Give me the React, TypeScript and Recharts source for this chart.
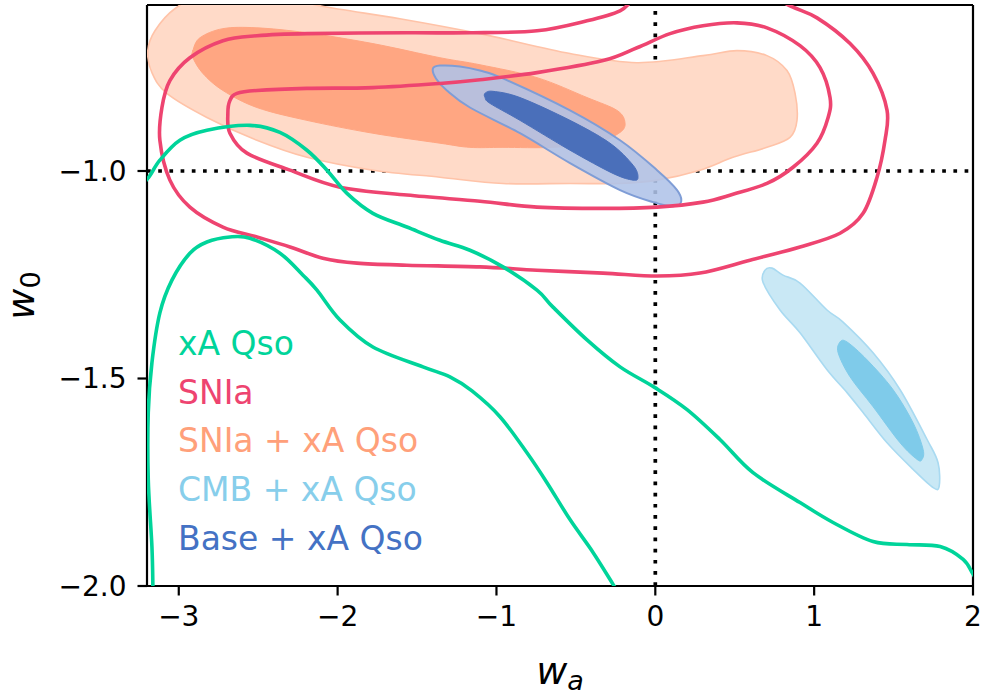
import React from 'react';
import { ScatterChart, Scatter, XAxis, YAxis, ReferenceLine, Legend } from 'recharts';

type Pair = [number, number];

// ---- contour data (wa, w0) ----
const SNXA_OUTER: Pair[] = [[-3.195,-0.710],[-3.150,-0.662],[-3.025,-0.609],[-2.804,-0.566],[-2.489,-0.566],[-2.111,-0.602],[-1.608,-0.633],[-1.104,-0.669],[-0.537,-0.717],[-0.115,-0.739],[0.300,-0.722],[0.514,-0.710],[0.703,-0.722],[0.829,-0.758],[0.880,-0.813],[0.892,-0.878],[0.848,-0.919],[0.703,-0.943],[0.489,-0.967],[0.281,-0.998],[0.011,-1.022],[-0.222,-1.030],[-0.537,-1.030],[-0.959,-1.030],[-1.356,-1.015],[-1.778,-0.998],[-2.193,-0.967],[-2.508,-0.926],[-2.823,-0.871],[-3.075,-0.813],[-3.169,-0.763]];

const SNXA_INNER: Pair[] = [[-2.911,-0.710],[-2.867,-0.679],[-2.722,-0.657],[-2.508,-0.655],[-2.193,-0.667],[-1.778,-0.693],[-1.356,-0.727],[-1.104,-0.744],[-0.745,-0.775],[-0.430,-0.823],[-0.241,-0.854],[-0.191,-0.883],[-0.222,-0.907],[-0.367,-0.931],[-0.644,-0.943],[-0.959,-0.943],[-1.167,-0.943],[-1.356,-0.933],[-1.778,-0.909],[-2.193,-0.878],[-2.508,-0.847],[-2.722,-0.806],[-2.848,-0.765],[-2.911,-0.727]];

const BASE_OUTER: Pair[] = [[-1.400,-0.753],[-1.356,-0.746],[-1.230,-0.748],[-1.104,-0.758],[-0.959,-0.777],[-0.537,-0.854],[-0.222,-0.926],[0.011,-0.998],[0.137,-1.046],[0.162,-1.075],[0.111,-1.085],[-0.014,-1.075],[-0.222,-1.046],[-0.537,-0.981],[-0.852,-0.909],[-1.167,-0.847],[-1.312,-0.806],[-1.381,-0.777]];

const BASE_INNER: Pair[] = [[-1.072,-0.813],[-1.022,-0.808],[-0.852,-0.823],[-0.537,-0.878],[-0.285,-0.933],[-0.140,-0.986],[-0.109,-1.015],[-0.140,-1.022],[-0.266,-1.006],[-0.537,-0.950],[-0.852,-0.878],[-1.041,-0.837],[-1.072,-0.823]];

const SN_INNER: Pair[] = [[-2.691,-0.861],[-2.678,-0.830],[-2.634,-0.813],[-2.508,-0.806],[-2.193,-0.801],[-1.778,-0.799],[-1.356,-0.789],[-1.104,-0.780],[-0.745,-0.763],[-0.329,-0.734],[-0.115,-0.703],[0.093,-0.669],[0.300,-0.650],[0.514,-0.643],[0.703,-0.655],[0.911,-0.698],[1.037,-0.751],[1.100,-0.823],[1.088,-0.871],[1.018,-0.933],[0.867,-0.991],[0.703,-1.030],[0.489,-1.056],[0.300,-1.075],[0.011,-1.087],[-0.329,-1.090],[-0.745,-1.087],[-1.104,-1.073],[-1.564,-1.058],[-1.985,-1.039],[-2.300,-0.998],[-2.571,-0.957],[-2.678,-0.909]];

const SN_OUTER: Pair[] = [[-3.119,-0.926],[-3.106,-0.847],[-3.056,-0.782],[-2.930,-0.727],[-2.722,-0.686],[-2.508,-0.674],[-2.193,-0.669],[-1.564,-0.667],[-1.167,-0.667],[-0.745,-0.662],[-0.430,-0.638],[-0.222,-0.614],[-0.096,-0.578],[0.219,-0.542],[0.596,-0.554],[0.848,-0.602],[1.018,-0.631],[1.226,-0.693],[1.371,-0.765],[1.459,-0.854],[1.446,-0.926],[1.396,-1.015],[1.308,-1.102],[1.163,-1.150],[0.911,-1.183],[0.596,-1.215],[0.281,-1.246],[0.011,-1.253],[-0.329,-1.246],[-0.745,-1.239],[-1.104,-1.231],[-1.564,-1.227],[-1.878,-1.222],[-2.093,-1.210],[-2.300,-1.183],[-2.508,-1.159],[-2.722,-1.135],[-2.930,-1.087],[-3.056,-1.022]];

const XA_OUTER: Pair[] = [[-3.276,-1.046],[-3.195,-1.018],[-3.119,-0.974],[-2.993,-0.926],[-2.823,-0.902],[-2.552,-0.890],[-2.363,-0.907],[-2.193,-0.950],[-2.067,-0.998],[-1.941,-1.054],[-1.778,-1.102],[-1.564,-1.135],[-1.356,-1.167],[-1.167,-1.191],[-0.959,-1.231],[-0.745,-1.287],[-0.644,-1.328],[-0.430,-1.407],[-0.222,-1.472],[-0.002,-1.522],[0.200,-1.575],[0.407,-1.647],[0.615,-1.727],[0.911,-1.799],[1.119,-1.847],[1.371,-1.893],[1.585,-1.900],[1.793,-1.905],[1.938,-1.936],[2.001,-1.972],[2.076,-2.020]];

const XA_INNER: Pair[] = [[-3.163,-2.032],[-3.163,-2.001],[-3.169,-1.905],[-3.192,-1.744],[-3.192,-1.582],[-3.169,-1.462],[-3.119,-1.342],[-3.043,-1.263],[-2.930,-1.198],[-2.823,-1.171],[-2.678,-1.159],[-2.552,-1.162],[-2.363,-1.198],[-2.218,-1.251],[-2.130,-1.287],[-1.985,-1.359],[-1.778,-1.424],[-1.463,-1.472],[-1.293,-1.496],[-1.154,-1.530],[-0.978,-1.592],[-0.808,-1.679],[-0.682,-1.751],[-0.537,-1.840],[-0.392,-1.919],[-0.266,-1.996],[-0.210,-2.032]];

const CMB_OUTER: Pair[] = [[0.691,-1.239],[0.735,-1.234],[0.804,-1.251],[0.911,-1.270],[1.081,-1.335],[1.182,-1.364],[1.371,-1.438],[1.541,-1.527],[1.711,-1.647],[1.780,-1.703],[1.787,-1.760],[1.749,-1.763],[1.623,-1.719],[1.459,-1.655],[1.308,-1.582],[1.207,-1.534],[1.081,-1.479],[0.911,-1.390],[0.785,-1.335],[0.678,-1.268]];

const CMB_INNER: Pair[] = [[1.163,-1.412],[1.207,-1.412],[1.333,-1.455],[1.497,-1.527],[1.623,-1.607],[1.686,-1.671],[1.679,-1.695],[1.648,-1.695],[1.541,-1.655],[1.371,-1.568],[1.226,-1.496],[1.151,-1.438]];

// ---- axes ----
const X_DOMAIN: [number, number] = [-3.2, 2];
const Y_DOMAIN: [number, number] = [-2.0, -0.6];
const X_TICKS = [-3, -2, -1, 0, 1, 2];
const Y_TICKS = [-2.0, -1.5, -1.0];
const REF_WA = 0;
const REF_W0 = -1;

// ---- legend ----
const LEGEND_LABELS = ['xA Qso', 'SNIa', 'SNIa + xA Qso', 'CMB + xA Qso', 'Base + xA Qso'];
const LEGEND_COLORS = ['#00D49A', '#EE4470', '#FFA07A', '#87CEEB', '#4472C4'];

const GREEN = '#00D49A';
const RED = '#EE4470';
const FONT = 'DejaVu Sans';

const toPoints = (pairs: Pair[]) => pairs.map(([x, y]) => ({ x, y }));

function smoothPath(points: { x: number; y: number }[], closed: boolean): string {
  const n = points.length;
  if (n < 2) return '';
  const p = (i: number) =>
    closed ? points[((i % n) + n) % n] : points[Math.max(0, Math.min(n - 1, i))];
  let d = `M${points[0].x},${points[0].y}`;
  const segs = closed ? n : n - 1;
  for (let i = 0; i < segs; i++) {
    const p0 = p(i - 1), p1 = p(i), p2 = p(i + 1), p3 = p(i + 2);
    const c1x = p1.x + (p2.x - p0.x) / 6, c1y = p1.y + (p2.y - p0.y) / 6;
    const c2x = p2.x - (p3.x - p1.x) / 6, c2y = p2.y - (p3.y - p1.y) / 6;
    d += `C${c1x},${c1y},${c2x},${c2y},${p2.x},${p2.y}`;
  }
  if (closed) d += 'Z';
  return d;
}

const contour =
  (closed: boolean, fill: string, stroke: string, strokeWidth: number, fillOpacity = 1) =>
  (props: any) => {
    const pts = (props.points || []).filter((q: any) => q && q.x != null && q.y != null);
    return (
      <path
        d={smoothPath(pts, closed)}
        fill={closed ? fill : 'none'}
        fillOpacity={fillOpacity}
        stroke={stroke}
        strokeWidth={strokeWidth}
        strokeLinejoin="round"
        strokeLinecap="round"
      />
    );
  };

const NoDot = () => <g />;

const fmtX = (v: number) => String(v).replace('-', '\u2212');
const fmtY = (v: number) => v.toFixed(1).replace('-', '\u2212');

const XLabel = (props: any) => {
  const vb = props.viewBox || { x: 147, y: 586, width: 826, height: 110 };
  const cx = vb.x + vb.width / 2;
  return (
    <text x={cx} y={vb.y + 98} textAnchor="middle" fontFamily={FONT} fontSize={38} fill="#000">
      <tspan fontStyle="italic">w</tspan>
      <tspan fontStyle="italic" fontSize={27} dy={6}>a</tspan>
    </text>
  );
};

const YLabel = (props: any) => {
  const vb = props.viewBox || { x: 0, y: 5, width: 147, height: 581 };
  const cy = vb.y + vb.height / 2;
  const bx = vb.x + 34;
  return (
    <text
      x={bx}
      y={cy}
      transform={`rotate(-90 ${bx} ${cy})`}
      textAnchor="middle"
      fontFamily={FONT}
      fontSize={38}
      fill="#000"
    >
      <tspan fontStyle="italic">w</tspan>
      <tspan fontSize={27} dy={6}>0</tspan>
    </text>
  );
};

const renderLegend = () => (
  <div style={{ fontFamily: FONT, fontSize: 33, lineHeight: '48.7px', whiteSpace: 'nowrap' }}>
    {LEGEND_LABELS.map((l, i) => (
      <div key={l} style={{ color: LEGEND_COLORS[i] }}>
        {l}
      </div>
    ))}
  </div>
);

const tickStyle = { fill: '#000', fontSize: 28, fontFamily: FONT };
const axisLineStyle = { stroke: '#000', strokeWidth: 2.2 };

export default function App() {
  return (
    <div style={{ position: 'absolute', left: 0, top: 0, background: '#fff' }}>
      <ScatterChart width={981} height={696} margin={{ top: 5, right: 8, bottom: 0, left: 0 }}>
        <XAxis
          type="number"
          dataKey="x"
          domain={X_DOMAIN}
          ticks={X_TICKS}
          allowDataOverflow
          height={110}
          tick={tickStyle}
          tickFormatter={fmtX}
          tickSize={9.5}
          tickMargin={11}
          tickLine={axisLineStyle}
          axisLine={axisLineStyle}
          label={{ content: (p: any) => <XLabel {...p} /> }}
        />
        <YAxis
          type="number"
          dataKey="y"
          domain={Y_DOMAIN}
          ticks={Y_TICKS}
          allowDataOverflow
          width={147}
          tick={tickStyle}
          tickFormatter={fmtY}
          tickSize={9.5}
          tickMargin={11}
          tickLine={axisLineStyle}
          axisLine={axisLineStyle}
          label={{ content: (p: any) => <YLabel {...p} /> }}
        />

        <Scatter name="SNIa + xA Qso 2σ" data={toPoints(SNXA_OUTER)} isAnimationActive={false} shape={NoDot} line={contour(true, '#FFDAC8', '#FFC3A8', 1.6)} />
        <Scatter name="SNIa + xA Qso 1σ" data={toPoints(SNXA_INNER)} isAnimationActive={false} shape={NoDot} line={contour(true, '#FFA682', '#FFA682', 1)} />
        <Scatter name="CMB + xA Qso 2σ" data={toPoints(CMB_OUTER)} isAnimationActive={false} shape={NoDot} line={contour(true, '#C9E8F5', '#A9DAF1', 1.6)} />
        <Scatter name="CMB + xA Qso 1σ" data={toPoints(CMB_INNER)} isAnimationActive={false} shape={NoDot} line={contour(true, '#7FCBEA', '#7FCBEA', 1)} />
        <Scatter name="Base + xA Qso 2σ" data={toPoints(BASE_OUTER)} isAnimationActive={false} shape={NoDot} line={contour(true, '#AFC3E8', '#7F9DD6', 2, 0.88)} />
        <Scatter name="Base + xA Qso 1σ" data={toPoints(BASE_INNER)} isAnimationActive={false} shape={NoDot} line={contour(true, '#4A6FBA', '#4A6FBA', 1)} />
        <Scatter name="SNIa 2σ" data={toPoints(SN_OUTER)} isAnimationActive={false} shape={NoDot} line={contour(true, 'none', RED, 3.6)} />
        <Scatter name="SNIa 1σ" data={toPoints(SN_INNER)} isAnimationActive={false} shape={NoDot} line={contour(true, 'none', RED, 3.6)} />
        <Scatter name="xA Qso 2σ" data={toPoints(XA_OUTER)} isAnimationActive={false} shape={NoDot} line={contour(false, 'none', GREEN, 3.6)} />
        <Scatter name="xA Qso 1σ" data={toPoints(XA_INNER)} isAnimationActive={false} shape={NoDot} line={contour(false, 'none', GREEN, 3.6)} />

        <ReferenceLine x={REF_WA} stroke="#000" strokeWidth={3.7} strokeDasharray="3.7 7.5" />
        <ReferenceLine y={REF_W0} stroke="#000" strokeWidth={3.7} strokeDasharray="3.7 7.5" />

        {/* top and right spines of the frame */}
        <ReferenceLine y={Y_DOMAIN[1]} stroke="#000" strokeWidth={2.2} ifOverflow="visible" />
        <ReferenceLine x={X_DOMAIN[1]} stroke="#000" strokeWidth={2.2} ifOverflow="visible" />

        <Legend
          layout="vertical"
          align="center"
          verticalAlign="middle"
          content={renderLegend}
          wrapperStyle={{ left: 178, top: 320, width: 'auto', height: 'auto' }}
        />
      </ScatterChart>
    </div>
  );
}
